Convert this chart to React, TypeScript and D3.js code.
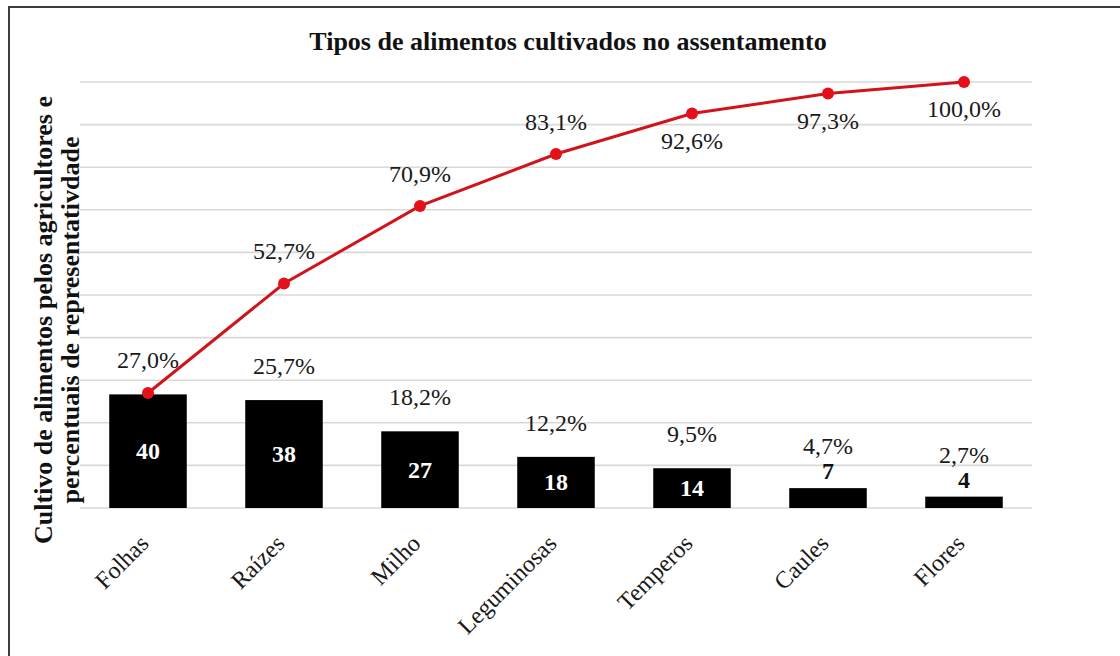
import React, { useEffect, useRef } from "react";
import * as d3 from "d3";

const categories: string[] = ["Folhas", "Raízes", "Milho", "Leguminosas", "Temperos", "Caules", "Flores"];
const counts: number[] = [40, 38, 27, 18, 14, 7, 4];
const percents: number[] = [27.0, 25.7, 18.2, 12.2, 9.5, 4.7, 2.7];
const cumulative: number[] = [27.0, 52.7, 70.9, 83.1, 92.6, 97.3, 100.0];
const primaryTicks: number[] = [0, 15, 30, 45, 60, 75, 90, 105, 120, 135, 150];

const title = "Tipos de alimentos cultivados no assentamento";
const yTitleLines: string[] = ["Cultivo de alimentos pelos agricultores e", "percentuais de representativdade"];

const W = 1120;
const H = 656;
const FONT = "'Liberation Serif', 'Times New Roman', serif";

function fmt(v: number): string {
  return v.toFixed(1).replace(".", ",") + "%";
}

export default function App() {
  const ref = useRef<SVGSVGElement | null>(null);

  useEffect(() => {
    const svg = d3.select(ref.current);
    svg.selectAll("*").remove();

    const plot = { left: 80, right: 1032, top: 82, bottom: 508 };

    // frame
    svg.append("rect")
      .attr("x", 9).attr("y", 7)
      .attr("width", W + 20).attr("height", H + 20)
      .attr("fill", "#fff")
      .attr("stroke", "#3c3c3c")
      .attr("stroke-width", 2);

    // title
    svg.append("text")
      .attr("x", 568).attr("y", 50)
      .attr("text-anchor", "middle")
      .attr("font-family", FONT)
      .attr("font-weight", "bold")
      .attr("font-size", 26)
      .attr("fill", "#111")
      .text(title);

    const x = d3.scaleBand<string>()
      .domain(categories)
      .range([plot.left, plot.right])
      .paddingInner(0.43)
      .paddingOuter(0.215);

    const y = d3.scaleLinear().domain([0, 150]).range([plot.bottom, plot.top]);
    const y2 = d3.scaleLinear().domain([0, 100]).range([plot.bottom, plot.top]);

    // gridlines
    svg.append("g")
      .selectAll("line")
      .data(primaryTicks)
      .join("line")
      .attr("x1", plot.left).attr("x2", plot.right)
      .attr("y1", (d) => y(d)).attr("y2", (d) => y(d))
      .attr("stroke", "#d9d9d9")
      .attr("stroke-width", 1.6);

    const cx = (c: string) => (x(c) as number) + x.bandwidth() / 2;

    // bars
    svg.append("g")
      .selectAll("rect")
      .data(categories)
      .join("rect")
      .attr("x", (c) => x(c) as number)
      .attr("width", x.bandwidth())
      .attr("y", (_c, i) => y(counts[i]))
      .attr("height", (_c, i) => plot.bottom - y(counts[i]))
      .attr("fill", "#000");

    // count labels
    svg.append("g")
      .selectAll("text")
      .data(categories)
      .join("text")
      .attr("x", (c) => cx(c))
      .attr("y", (_c, i) => {
        const top = y(counts[i]);
        const h = plot.bottom - top;
        return h > 30 ? top + h / 2 + 8 : top - 9;
      })
      .attr("text-anchor", "middle")
      .attr("font-family", FONT)
      .attr("font-weight", "bold")
      .attr("font-size", 24)
      .attr("fill", (_c, i) => (plot.bottom - y(counts[i]) > 30 ? "#fff" : "#111"))
      .text((_c, i) => String(counts[i]));

    // percent labels above bars
    svg.append("g")
      .selectAll("text")
      .data(categories)
      .join("text")
      .attr("x", (c) => cx(c))
      .attr("y", (_c, i) => {
        const top = y(counts[i]);
        const h = plot.bottom - top;
        return h > 30 ? top - 26 : top - 34;
      })
      .attr("text-anchor", "middle")
      .attr("font-family", FONT)
      .attr("font-size", 24)
      .attr("fill", "#1a1a1a")
      .text((_c, i) => fmt(percents[i]));

    // cumulative line
    const line = d3.line<number>()
      .x((_d, i) => cx(categories[i]))
      .y((d) => y2(d));

    svg.append("path")
      .datum(cumulative)
      .attr("d", line)
      .attr("fill", "none")
      .attr("stroke", "#d0141c")
      .attr("stroke-width", 3);

    svg.append("g")
      .selectAll("circle")
      .data(cumulative)
      .join("circle")
      .attr("cx", (_d, i) => cx(categories[i]))
      .attr("cy", (d) => y2(d))
      .attr("r", 6)
      .attr("fill", "#e5111a");

    // cumulative labels (the first coincides with the bar label)
    svg.append("g")
      .selectAll("text")
      .data(cumulative.slice(1))
      .join("text")
      .attr("x", (_d, i) => cx(categories[i + 1]))
      .attr("y", (d, i) => (i + 1 < 4 ? y2(d) - 24 : y2(d) + 35))
      .attr("text-anchor", "middle")
      .attr("font-family", FONT)
      .attr("font-size", 24)
      .attr("fill", "#1a1a1a")
      .text((d) => fmt(d));

    // category labels
    svg.append("g")
      .selectAll("text")
      .data(categories)
      .join("text")
      .attr("transform", (c) => `translate(${cx(c) + 2},${plot.bottom + 37}) rotate(-45)`)
      .attr("text-anchor", "end")
      .attr("font-family", FONT)
      .attr("font-size", 24)
      .attr("fill", "#1a1a1a")
      .text((c) => c);

    // y-axis title
    const yt = svg.append("text")
      .attr("transform", `translate(52,${(plot.top + plot.bottom) / 2 + 25}) rotate(-90)`)
      .attr("text-anchor", "middle")
      .attr("font-family", FONT)
      .attr("font-weight", "bold")
      .attr("font-size", 26)
      .attr("fill", "#111");
    yTitleLines.forEach((l, i) => {
      yt.append("tspan")
        .attr("x", 0)
        .attr("dy", i === 0 ? 0 : 27)
        .text(l);
    });
  }, []);

  return (
    <svg
      ref={ref}
      width={W}
      height={H}
      style={{ position: "absolute", left: 0, top: 0, background: "#fff" }}
    />
  );
}
